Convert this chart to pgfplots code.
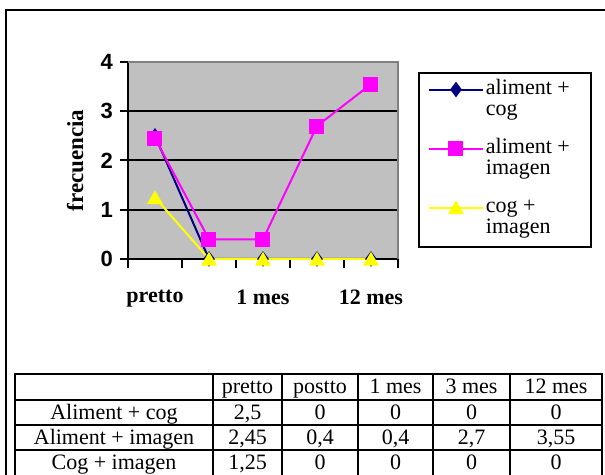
\documentclass[border=0pt]{standalone}
\usepackage{fontspec}
\setmainfont{Liberation Serif}
\newfontfamily\arialfont{Liberation Sans}
\usepackage{pgfplots}
\pgfplotsset{compat=1.18}

\definecolor{xlnavy}{HTML}{000080}
\definecolor{xlmagenta}{HTML}{FF00FF}
\definecolor{xlyellow}{HTML}{FFFF00}
\definecolor{xlsilver}{HTML}{C0C0C0}
\definecolor{xlgray}{HTML}{808080}

% two-line legend entry, baseline on its first line
\newcommand{\twoline}[2]{\makebox[48pt][l]{\begin{tabular}[t]{@{}l@{}}#1\\#2\end{tabular}}}

\begin{document}
\begin{tikzpicture}
\useasboundingbox (0,0) rectangle (302.5pt,237.5pt);
\clip (0,0) rectangle (302.5pt,237.5pt);

% chart frame
\draw[line width=1pt] (3pt,-10pt) rectangle (320pt,232.5pt);

\begin{axis}[
  at={(64pt,108pt)}, anchor=south west,
  scale only axis, width=135pt, height=98.5pt,
  xmin=-0.5, xmax=4.5, ymin=0, ymax=4,
  axis lines=left,
  axis line style={-, line width=1pt, black},
  axis background/.style={fill=xlsilver},
  clip=false,
  xtick={0,2,4}, xticklabels={pretto,1 mes,12 mes},
  major x tick style={draw=none},
  minor xtick={-0.5,0.5,...,4.5},
  ytick={0,1,2,3,4}, yticklabels={0,1,2,3,4},
  tick align=outside,
  major tick length=4pt,
  minor tick length=4.5pt,
  every tick/.style={black, line width=1pt},
  ymajorgrids,
  major grid style={black, line width=1pt},
  xticklabel style={font=\bfseries\fontsize{11}{13}\selectfont, yshift=-8pt},
  yticklabel style={font=\arialfont\bfseries\fontsize{11}{13}\selectfont},
  ylabel={frecuencia},
  ylabel style={font=\bfseries\fontsize{11.5}{13}\selectfont,
    at={(axis description cs:-0.196,0.5)}, anchor=center},
  legend cell align=left,
  legend style={at={(axis description cs:1.074,0.949)}, anchor=north west,
    draw=black, line width=1pt, fill=white,
    inner xsep=4.5pt, inner ysep=3.5pt, row sep=8.5pt, column sep=1pt,
    font=\fontsize{11}{10.5}\selectfont,
    nodes={inner sep=0pt, text height=7.35pt, text depth=13.65pt},
    cells={anchor=base west}},
  legend image code/.code={\draw[mark repeat=2, mark phase=2, #1]
    plot coordinates {(0pt,2.6pt) (13.5pt,2.6pt) (27pt,2.6pt)};},
]
\addplot[xlnavy, line width=1pt, mark=diamond*, mark size=3.5pt,
  mark options={solid, fill=xlnavy, line width=0.5pt}]
  coordinates {(0,2.5) (1,0) (2,0) (3,0) (4,0)};
\addlegendentry{\twoline{aliment +}{cog}}
\addplot[xlmagenta, line width=1pt, mark=square*, mark size=3.5pt,
  mark options={solid, fill=xlmagenta, line width=0.5pt}]
  coordinates {(0,2.45) (1,0.4) (2,0.4) (3,2.7) (4,3.55)};
\addlegendentry{\twoline{aliment +}{imagen}}
\addplot[xlyellow, line width=1pt, mark=triangle*, mark size=4.1pt,
  mark options={solid, fill=xlyellow, line width=0.5pt, yshift=-1pt}]
  coordinates {(0,1.25) (1,0) (2,0) (3,0) (4,0)};
\addlegendentry{\twoline{cog +}{imagen}}
% plot area border on the top and right
\draw[xlgray, line width=1pt] (rel axis cs:0,1) -- (rel axis cs:1,1) -- (rel axis cs:1,0);
\end{axis}

% data table below the chart
\begin{scope}[x=1pt, y=1pt, line width=0.75pt]
  \draw (7.5,50.5) rectangle (301,-0.5);
  \foreach \yy in {37.5,25,12.5} \draw (7.5,\yy) -- (301,\yy);
  \foreach \xx in {106.5,141,179,216.5,255} \draw (\xx,50.5) -- (\xx,-0.5);
  \begin{scope}[every node/.style={anchor=base, inner sep=0pt, font=\fontsize{11}{13}\selectfont}]
    % header row
    \node at (123.75,40.75) {pretto};
    \node at (160,40.75) {postto};
    \node at (197.75,40.75) {1 mes};
    \node at (235.75,40.75) {3 mes};
    \node at (278,40.75) {12 mes};
    % Aliment + cog
    \node at (57,27.75) {Aliment + cog};
    \node at (123.75,27.75) {2,5};
    \node at (160,27.75) {0};
    \node at (197.75,27.75) {0};
    \node at (235.75,27.75) {0};
    \node at (278,27.75) {0};
    % Aliment + imagen
    \node at (57,15.25) {Aliment + imagen};
    \node at (123.75,15.25) {2,45};
    \node at (160,15.25) {0,4};
    \node at (197.75,15.25) {0,4};
    \node at (235.75,15.25) {2,7};
    \node at (278,15.25) {3,55};
    % Cog + imagen
    \node at (57,2.75) {Cog + imagen};
    \node at (123.75,2.75) {1,25};
    \node at (160,2.75) {0};
    \node at (197.75,2.75) {0};
    \node at (235.75,2.75) {0};
    \node at (278,2.75) {0};
  \end{scope}
\end{scope}
\end{tikzpicture}
\end{document}
